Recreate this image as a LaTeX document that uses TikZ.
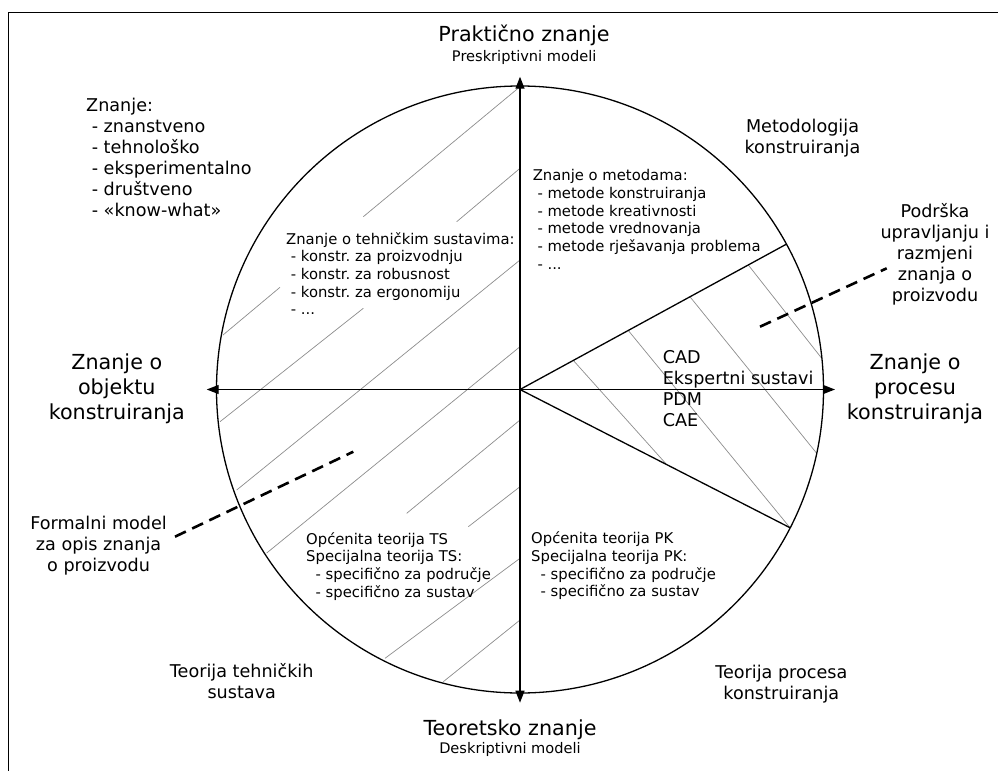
\documentclass[tikz,border=0pt]{standalone}
\usepackage{fontspec}
\setmainfont{DejaVu Sans}
\usetikzlibrary{arrows.meta}
\frenchspacing
\begin{document}
\begin{tikzpicture}[x=1pt,y=-1pt,
  mainline/.style={line width=1.3pt,black},
  axis/.style={line width=1.3pt,black,{Triangle[length=12pt,width=9pt]}-{Triangle[length=12pt,width=9pt]}},
  hatch/.style={line width=0.7pt,black!45},
  leader/.style={line width=2.6pt,black,dash pattern=on 12pt off 7pt},
  bigc/.style={font=\fontsize{20.7}{24.8}\selectfont,align=center,anchor=north,inner sep=0pt},
  midc/.style={font=\fontsize{17.6}{21}\selectfont,align=center,anchor=north,inner sep=0pt},
  midw/.style={font=\fontsize{17.6}{21}\selectfont,align=left,anchor=north west,inner sep=0pt},
  smallc/.style={font=\fontsize{14.6}{17.7}\selectfont,align=center,anchor=north,inner sep=0pt},
  smallw/.style={font=\fontsize{14.8}{17.7}\selectfont,align=left,anchor=north west,inner sep=0pt}]
\useasboundingbox (0,0) rectangle (998,771);
% frame (only top and left edges visible)
\draw[line width=1.3pt] (998,12.3) -- (8.3,12.3) -- (8.3,771);

% hatching, left half
\draw[hatch] (223,335) -- (280,287.3);
\draw[hatch] (363.3,216.7) -- (520,86.7);
\draw[hatch] (456.7,221.7) -- (520,168.3);
\draw[hatch] (220,421.7) -- (363.3,308.3);
\draw[hatch] (236.7,490) -- (520,260);
\draw[hatch] (266.7,553) -- (520,346.7);
\draw[hatch] (406.7,513.3) -- (520,420);
\draw[hatch] (468.3,526.7) -- (520,486.7);
\draw[hatch] (385,658.3) -- (520,558.3);
\draw[hatch] (443.3,681.7) -- (520,620);
% hatching, wedge
\draw[hatch] (573.3,360.4) -- (666.7,464.6);
\draw[hatch] (628.3,330.5) -- (790,527.7);
\draw[hatch] (690,296.8) -- (816.7,453.3);
\draw[hatch] (748.3,265) -- (821.7,358.3);

% circle, axes, wedge
\coordinate (O) at (520,389.5);
\draw[mainline] (O) circle[radius=303.5];
\coordinate (axT) at (520,76.7);
\coordinate (axB) at (520,702.7);
\coordinate (axL) at (206.7,389.5);
\coordinate (axR) at (835,389.5);
\draw[axis] (axB) -- (axT);
\draw[axis] (axL) -- (axR);
\coordinate (rU) at (786.7,244);
\coordinate (rD) at (790,527.7);
\draw[mainline] (rU) -- (O) -- (rD);

% dashed leaders
\coordinate (dR1) at (760,326.7);
\coordinate (dR2) at (886.7,268.3);
\draw[leader] (dR1) -- (dR2);
\coordinate (dL1) at (175,536.7);
\coordinate (dL2) at (353.3,451.7);
\draw[leader] (dL1) -- (dL2);

% axis labels
\node[bigc] (prak) at (524,24.1) {\strut Praktično znanje};
\node[smallc] (preskr) at (524.2,48.6) {\strut Preskriptivni modeli};
\node[bigc] (teor) at (510,717.6) {\strut Teoretsko znanje};
\node[smallc] (deskr) at (510,740.4) {\strut Deskriptivni modeli};
\node[bigc] (objL) at (116.8,352.3) {\strut Znanje o\\\strut objektu\\\strut konstruiranja};
\node[bigc] (procR) at (915,352.3) {\strut Znanje o\\\strut procesu\\\strut konstruiranja};

% outer labels
\node[midw] (znl) at (86,96.9) {\strut Znanje:\\\strut\ - znanstveno\\\strut\ - tehnološko\\\strut\ - eksperimentalno\\\strut\ - društveno\\\strut\ - «know-what»};
\node[midc] (metod) at (802.5,117.6) {\strut Metodologija\\\strut konstruiranja};
\node[midc] (podr) at (935,202.6) {\strut Podrška\\\strut upravljanju i\\\strut razmjeni\\\strut znanja o\\\strut proizvodu};
\node[midc] (formal) at (98.6,514.9) {\strut Formalni model\\\strut za opis znanja\\\strut o proizvodu};
\node[midc] (teorTS) at (241.7,662.6) {\strut Teorija tehničkih\\\strut sustava};
\node[midc] (teorPK) at (781.3,663.4) {\strut Teorija procesa\\\strut konstruiranja};
\node[midw] (cad) at (662.6,348.3) {\strut CAD\\\strut Ekspertni sustavi\\\strut PDM\\\strut CAE};

% inner blocks
\node[smallw] (metode) at (532.6,168.3) {\strut Znanje o metodama:\\\strut\ - metode konstruiranja\\\strut\ - metode kreativnosti\\\strut\ - metode vrednovanja\\\strut\ - metode rješavanja problema\\\strut\ - ...};
\node[smallw] (tehsus) at (286,231.6) {\strut Znanje o tehničkim sustavima:\\\strut\ - konstr. za proizvodnju\\\strut\ - konstr. za robusnost\\\strut\ - konstr. za ergonomiju\\\strut\ - ...};
\node[smallw] (opcTS) at (306,531.6) {\strut Općenita teorija TS\\\strut Specijalna teorija TS:\\\strut\ \ - specifično za područje\\\strut\ \ - specifično za sustav};
\node[smallw] (opcPK) at (531,531.3) {\strut Općenita teorija PK\\\strut Specijalna teorija PK:\\\strut\ \ - specifično za područje\\\strut\ \ - specifično za sustav};
\end{tikzpicture}
\end{document}
